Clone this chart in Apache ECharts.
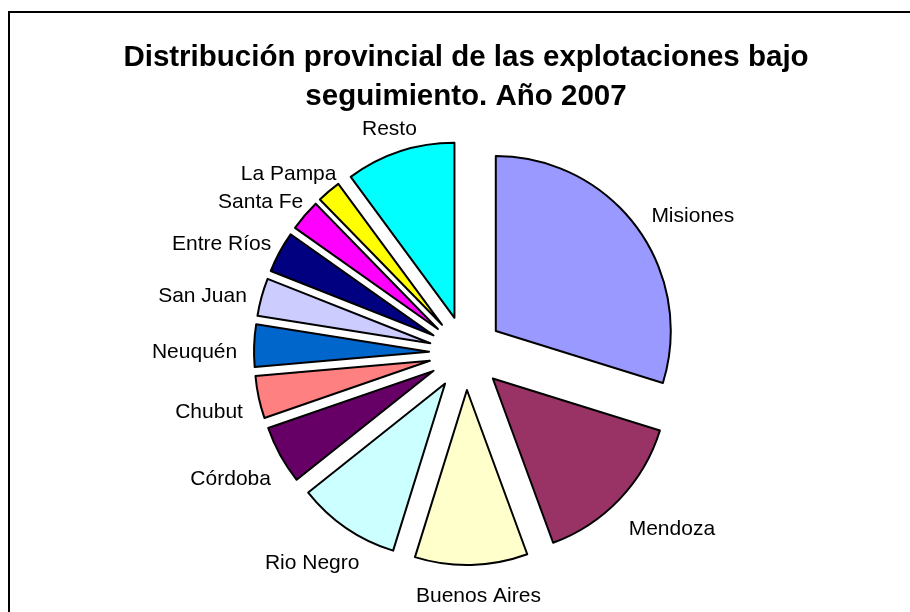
<!DOCTYPE html>
<html>
<head>
<meta charset="utf-8">
<script src="https://cdn.jsdelivr.net/npm/echarts@6/dist/echarts.min.js"></script>
<style>
  html, body { margin: 0; padding: 0; background: #ffffff; }
  #chart { width: 910px; height: 612px; }
</style>
</head>
<body>
<div id="chart"></div>
<script>
const provinces = ['Misiones', 'Mendoza', 'Buenos Aires', 'Rio Negro', 'Córdoba', 'Chubut',
  'Neuquén', 'San Juan', 'Entre Ríos', 'Santa Fe', 'La Pampa', 'Resto'];
const shares = [29.8, 14.6, 10.4, 9.5, 5.4, 3.9, 3.9, 3.5, 3.8, 2.9, 2.2, 10.1];
const sliceColors = ['#9999FF', '#993366', '#FFFFCC', '#CCFFFF', '#660066', '#FF8080',
  '#0066CC', '#CCCCFF', '#000080', '#FF00FF', '#FFFF00', '#00FFFF'];

const H = 612;
const CENTER = [466, 353];
const RADIUS = 175;
const EXPLODE = 37;
const LABEL_GAP = 22;
const LABEL_SIZE = 21;
const FONT = '"Liberation Sans", Arial, sans-serif';

// measure label text so the box sits just outside its exploded slice (Excel style)
const measureCtx = document.createElement('canvas').getContext('2d');
measureCtx.font = LABEL_SIZE + 'px ' + FONT;

const total = shares.reduce((a, b) => a + b, 0);
let acc = 0;
const labelTexts = provinces.map((name, i) => {
  const a = ((acc + shares[i] / 2) / total) * Math.PI * 2;
  acc += shares[i];
  const dx = Math.sin(a);
  const dy = -Math.cos(a);
  const w = measureCtx.measureText(name).width;
  const h = LABEL_SIZE;
  const t = RADIUS + LABEL_GAP;
  const x = CENTER[0] + (EXPLODE + t) * dx + dx * w / 2 + 5;
  let y = CENTER[1] + (EXPLODE + t) * dy + dy * h / 2 + 8;
  y = Math.min(y, H - h / 2 - 5);
  return {
    type: 'text',
    x: x,
    y: y,
    silent: true,
    style: {
      text: name,
      font: LABEL_SIZE + 'px ' + FONT,
      fill: '#000000',
      align: 'center',
      verticalAlign: 'middle',
    },
  };
});

const chart = echarts.init(document.getElementById('chart'), null, { renderer: 'canvas' });

const option = {
  animation: false,
  backgroundColor: '#ffffff',
  graphic: [
    {
      type: 'rect',
      shape: { x: 9, y: 12, width: 940, height: 640 },
      style: { fill: 'none', stroke: '#000000', lineWidth: 2 },
      silent: true,
    },
    {
      type: 'text',
      x: 466,
      y: 38,
      style: {
        text: 'Distribución provincial de las explotaciones bajo\nseguimiento. Año 2007',
        font: 'bold 29.5px ' + FONT,
        fill: '#000000',
        align: 'center',
        lineHeight: 39,
      },
      silent: true,
    },
  ].concat(labelTexts),
  series: [
    {
      type: 'pie',
      center: CENTER,
      radius: RADIUS,
      startAngle: 90,
      clockwise: true,
      selectedMode: 'multiple',
      selectedOffset: EXPLODE,
      avoidLabelOverlap: false,
      silent: true,
      itemStyle: { borderColor: '#000000', borderWidth: 2 },
      label: { show: false },
      labelLine: { show: false },
      emphasis: { disabled: true },
      data: provinces.map((name, i) => ({
        name: name,
        value: shares[i],
        selected: true,
        itemStyle: { color: sliceColors[i] },
      })),
    },
  ],
};

chart.setOption(option);
</script>
</body>
</html>
